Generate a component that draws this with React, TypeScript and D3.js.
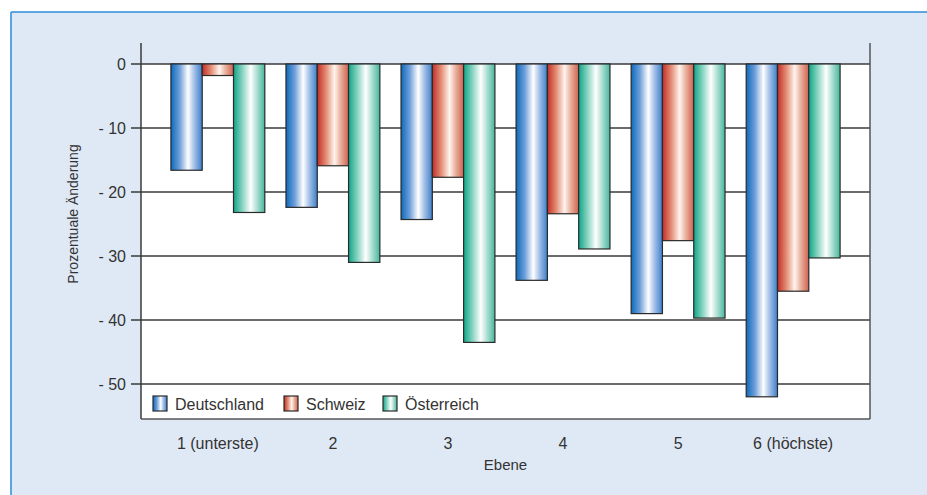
import React from "react";
import * as d3 from "d3";

const categories = ["1 (unterste)", "2", "3", "4", "5", "6 (höchste)"];
const seriesNames = ["Deutschland", "Schweiz", "Österreich"];
const deutschland = [-16.6, -22.4, -24.3, -33.8, -39.0, -52.0];
const schweiz = [-1.8, -15.9, -17.7, -23.4, -27.6, -35.5];
const oesterreich = [-23.2, -31.0, -43.5, -28.9, -39.7, -30.3];
const yTicks = [0, -10, -20, -30, -40, -50];
const yTickLabels = ["0", "- 10", "- 20", "- 30", "- 40", "- 50"];

const W = 927;
const H = 495;
const FONT = "'Liberation Sans', Arial, sans-serif";

const gradients = [
  { id: "gBlue", stops: ["#0b6abd", "#6f9fd9", "#ffffff", "#a6c1e8", "#3b7fca"] },
  { id: "gRed", stops: ["#c22e26", "#e38c74", "#fff4ee", "#e9b29f", "#d0604f"] },
  { id: "gGreen", stops: ["#0fa588", "#86d3c0", "#ffffff", "#b0e0d4", "#45b79d"] },
];
const offsets = ["0%", "28%", "55%", "74%", "100%"];

export default function App() {
  const plotLeft = 141;
  const plotRight = 870;
  const plotTopAxis = 43;
  const plotBottom = 419;

  const y = d3.scaleLinear().domain([0, -50]).range([64, 384]);
  const x0 = d3
    .scaleBand<string>()
    .domain(categories)
    .range([plotLeft, plotRight])
    .paddingInner(0.184)
    .paddingOuter(0.26);
  const x1 = d3
    .scaleBand<string>()
    .domain(seriesNames)
    .range([0, x0.bandwidth()]);

  const data = [deutschland, schweiz, oesterreich];
  const textColor = "#333";

  return (
    <svg
      width={W}
      height={H}
      style={{ position: "absolute", left: 0, top: 0, display: "block" }}
      fontFamily={FONT}
    >
      <defs>
        {gradients.map((g) => (
          <linearGradient key={g.id} id={g.id} x1="0" x2="1" y1="0" y2="0">
            {g.stops.map((c, i) => (
              <stop key={i} offset={offsets[i]} stopColor={c} />
            ))}
          </linearGradient>
        ))}
      </defs>
      <rect x={0} y={0} width={W} height={H} fill="#ffffff" />
      {/* panel */}
      <rect x={11} y={12} width={W - 11} height={H - 12} fill="#dfe9f5" />
      <line x1={11} x2={W} y1={12} y2={12} stroke="#2d8bd6" strokeWidth={1.5} />
      <line x1={11} x2={11} y1={12} y2={H} stroke="#2d8bd6" strokeWidth={1.5} />

      {/* white plot area */}
      <rect
        x={plotLeft}
        y={y(0)}
        width={plotRight - plotLeft}
        height={plotBottom - y(0)}
        fill="#ffffff"
      />

      {/* gridlines and ticks */}
      {yTicks.map((t, i) => (
        <g key={t}>
          <line
            x1={131}
            x2={plotRight}
            y1={y(t)}
            y2={y(t)}
            stroke="#3a3a3a"
            strokeWidth={1.3}
          />
          <text
            x={126}
            y={y(t)}
            dy="0.36em"
            textAnchor="end"
            fontSize={16}
            fill={textColor}
          >
            {yTickLabels[i]}
          </text>
        </g>
      ))}

      {/* bars */}
      {categories.map((c, ci) => (
        <g key={c} transform={`translate(${x0(c)},0)`}>
          {seriesNames.map((s, si) => {
            const v = data[si][ci];
            return (
              <rect
                key={s}
                x={x1(s)}
                y={y(0)}
                width={x1.bandwidth()}
                height={y(v) - y(0)}
                fill={`url(#${gradients[si].id})`}
                stroke="#2a2a2a"
                strokeWidth={1.2}
              />
            );
          })}
        </g>
      ))}

      {/* axes */}
      <line x1={plotLeft} x2={plotLeft} y1={plotTopAxis} y2={plotBottom} stroke="#3a3a3a" strokeWidth={1.5} />
      <line x1={plotRight} x2={plotRight} y1={plotTopAxis} y2={plotBottom} stroke="#555" strokeWidth={1.5} />
      <line x1={plotLeft} x2={plotRight} y1={plotBottom} y2={plotBottom} stroke="#555" strokeWidth={1.5} />

      {/* legend */}
      {seriesNames.map((s, i) => {
        const lx = [153, 284, 383][i];
        return (
          <g key={s}>
            <rect
              x={lx}
              y={396}
              width={14}
              height={15}
              fill={`url(#${gradients[i].id})`}
              stroke="#2a2a2a"
              strokeWidth={1.2}
            />
            <text x={lx + 22} y={404} dy="0.36em" fontSize={16} fill={textColor}>
              {s}
            </text>
          </g>
        );
      })}

      {/* x labels */}
      {categories.map((c) => (
        <text
          key={c}
          x={(x0(c) ?? 0) + x0.bandwidth() / 2}
          y={443}
          dy="0.36em"
          textAnchor="middle"
          fontSize={16}
          fill={textColor}
        >
          {c}
        </text>
      ))}
      <text
        x={(plotLeft + plotRight) / 2}
        y={465}
        dy="0.36em"
        textAnchor="middle"
        fontSize={15}
        fill={textColor}
      >
        Ebene
      </text>
      <text
        transform={`translate(73,214) rotate(-90)`}
        dy="0.36em"
        textAnchor="middle"
        fontSize={14}
        fill={textColor}
      >
        Prozentuale Änderung
      </text>
    </svg>
  );
}
